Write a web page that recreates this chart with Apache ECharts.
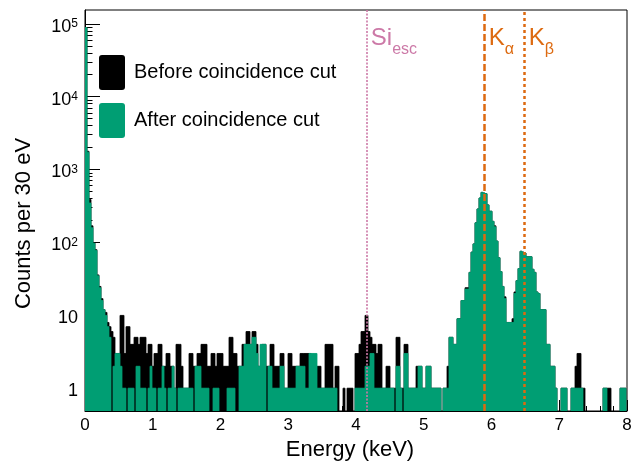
<!DOCTYPE html>
<html>
<head>
<meta charset="utf-8">
<script src="https://cdn.jsdelivr.net/npm/echarts@6/dist/echarts.min.js"></script>
<style>
  html, body { margin: 0; padding: 0; background: #fff; }
  #chart { width: 642px; height: 466px; }
</style>
</head>
<body>
<div id="chart"></div>
<script>
// bin width 30 eV, bins start at 0 keV
var binWidth = 0.03;

// counts per bin before the coincidence cut
var beforeCut = [
  90000, 1800, 390, 170, 100, 80, 36, 25, 17, 12, 11, 8, 7, 6, 5, 3, 3,
  10, 10, 3, 7, 7, 4, 4, 5, 5, 4, 5, 5, 5, 3, 4, 4, 2,
  3, 3, 4, 4, 2, 2, 3, 3, 2, 2, 1, 4, 4, 2, 1, 1, 1,
  3, 3, 2, 2, 3, 3, 4, 4, 4, 2, 2, 3, 3, 2, 3, 3,
  3, 2, 2, 2, 5, 5, 3, 3, 2, 2, 4, 4, 6, 6, 4, 6, 6,
  4, 2, 2, 4, 4, 2, 2, 4, 4, 2, 2, 2, 3, 3, 1,
  1, 3, 3, 2, 2, 2, 2, 3, 3, 3, 3, 3, 2, 2, 2, 2, 2,
  1, 1, 4, 4, 4, 4, 1, 2, 2, 0, 0, 1, 0, 1, 1, 1, 0,
  3, 3, 4, 6, 6, 10, 6, 5, 4, 4, 3, 4, 4, 1, 1,
  2, 2, 1, 1, 1, 5, 5, 1, 1, 4, 4, 1, 1, 1, 1, 2, 2,
  2, 1, 1, 2, 2, 1, 1, 1, 1, 1, 0, 1, 1, 2,
  5, 5, 4, 4, 9, 9, 16, 16, 24, 24, 39, 74, 96, 187, 290, 410, 490, 480, 470, 330, 270, 196, 170, 105, 62, 40, 25, 18,
  8, 8, 8, 9, 21, 30, 44, 76, 74, 72, 64, 64, 64, 43, 39, 21, 20, 12, 12, 12, 4, 4, 2, 2, 1, 0,
  0, 1, 1, 1, 0, 0, 1, 1, 2, 3, 3, 1, 1, 0, 0, 0, 0,
  0, 0, 0, 0, 0, 1, 1, 1, 1, 0, 0, 0, 0, 1, 1, 1, 0
];

// counts per bin after the coincidence cut
var afterCut = [
  90000, 1750, 350, 160, 98, 78, 35, 24, 16, 12, 10, 7, 5, 0, 2, 3, 3,
  2, 1, 1, 0, 1, 1, 1, 0, 2, 2, 1, 1, 1, 0, 1, 2, 1,
  1, 0, 1, 1, 2, 1, 0, 1, 1, 2, 1, 0, 1, 1, 1, 1, 1,
  1, 1, 0, 2, 2, 2, 1, 1, 1, 1, 0, 0, 1, 1, 1, 0,
  0, 0, 0, 1, 1, 1, 1, 0, 0, 2, 2, 4, 4, 4, 4, 5, 5,
  3, 2, 4, 4, 4, 0, 2, 2, 1, 1, 1, 1, 2, 2, 1,
  1, 1, 1, 1, 1, 2, 2, 2, 2, 1, 1, 3, 3, 3, 3, 1, 1,
  1, 1, 1, 1, 1, 1, 1, 1, 0, 0, 0, 0, 0, 0, 0, 0, 0,
  1, 1, 1, 1, 1, 2, 2, 3, 3, 1, 1, 1, 1, 1, 1,
  1, 1, 1, 1, 0, 2, 2, 1, 0, 3, 3, 1, 1, 1, 1, 1, 2,
  2, 1, 1, 2, 2, 1, 1, 1, 1, 1, 0, 1, 1, 1,
  5, 5, 4, 4, 9, 9, 16, 16, 23, 23, 39, 74, 96, 187, 290, 410, 490, 480, 470, 330, 270, 196, 165, 105, 62, 40, 25, 17,
  8, 8, 8, 8, 20, 30, 44, 76, 74, 72, 64, 64, 64, 43, 39, 21, 20, 12, 12, 12, 4, 4, 2, 2, 1, 0,
  0, 1, 1, 1, 0, 0, 1, 1, 1, 1, 1, 1, 0, 0, 0, 0, 0,
  0, 0, 0, 0, 0, 1, 1, 0, 0, 0, 0, 0, 0, 1, 1, 1, 0
];

// line energies (keV)
var siEsc = 4.16;
var kAlpha = 5.9;
var kBeta = 6.49;

// axis ticks
var xTicks = [0, 1, 2, 3, 4, 5, 6, 7, 8];
var yMajor = [1, 10, 100, 1000, 10000, 100000];
var yMinor = [0.5, 0.6, 0.7, 0.8, 0.9];
yMajor.slice(0, 5).forEach(function (d) {
  for (var m = 2; m <= 9; m++) yMinor.push(m * d);
});

var font = 'Liberation Sans, Arial, Helvetica, sans-serif';
var green = '#009e73';
var orange = '#dd6a10';
var pink = '#cc79a7';

function toBins(counts) {
  var out = [];
  counts.forEach(function (c, i) {
    if (c > 0) out.push([i * binWidth, (i + 1) * binWidth, c]);
  });
  return out;
}

// one filled rect per bin, from the count down to the bottom of the frame
function renderBin(params, api) {
  var p0 = api.coord([api.value(0), api.value(2)]);
  var p1 = api.coord([api.value(1), api.value(2)]);
  var cs = params.coordSys;
  var bottom = cs.y + cs.height;
  var top = Math.max(p0[1], cs.y);
  var x0 = Math.round(p0[0]);
  var x1 = Math.round(p1[0]);
  var c = api.visual('color');
  // a thin stroke of the same colour hides seams between neighbouring bins
  return {
    type: 'rect',
    shape: { x: x0, y: top + 0.4, width: x1 - x0, height: bottom - top - 0.4 },
    style: { fill: c, stroke: c, lineWidth: 0.8 }
  };
}

function powLabel(v) {
  var e = Math.round(Math.log10(v));
  if (e <= 1) return '{b|' + Math.round(v) + '}';
  return '{b|10}{e|' + e + '}';
}

var chart = echarts.init(document.getElementById('chart'));

var option = {
  animation: false,
  grid: { left: 85, right: 15, top: 10, bottom: 53, show: true, borderColor: '#000', borderWidth: 1 },
  legend: {
    orient: 'vertical', left: 99, top: 55, padding: 0,
    itemWidth: 26, itemHeight: 35, itemGap: 13,
    icon: 'path://M3,0H23Q26,0,26,3V32Q26,35,23,35H3Q0,35,0,32V3Q0,0,3,0Z',
    textStyle: { fontSize: 20, color: '#000', fontFamily: font, padding: [0, 0, 0, 4] },
    data: ['Before coincidence cut', 'After coincidence cut']
  },
  xAxis: {
    type: 'value', min: 0, max: 8, interval: 1,
    name: 'Energy (keV)', nameLocation: 'middle', nameGap: 28,
    nameTextStyle: { fontSize: 22, color: '#000', fontFamily: font, padding: [0, 12, 0, 0] },
    axisLine: { lineStyle: { color: '#000', width: 1 } },
    axisTick: { inside: true, length: 11, lineStyle: { color: '#000' } },
    minorTick: { show: true, splitNumber: 5, length: 5, lineStyle: { color: '#000' } },
    axisLabel: { fontSize: 17, color: '#000', fontFamily: font, margin: 6,
      customValues: xTicks },
    splitLine: { show: false }
  },
  yAxis: [{
    type: 'log', logBase: 10, min: 0.48, max: 155000,
    name: 'Counts per 30 eV', nameLocation: 'middle', nameGap: 50, nameRotate: 90,
    nameTextStyle: { fontSize: 22, color: '#000', fontFamily: font, padding: [0, 26, 0, 0] },
    axisLine: { show: true, lineStyle: { color: '#000', width: 1 } },
    axisTick: { inside: true, length: 15, customValues: yMajor, lineStyle: { color: '#000' } },
    axisLabel: {
      customValues: yMajor, formatter: powLabel, margin: 7, padding: [6, 0, 0, 0],
      rich: {
        b: { fontSize: 18, color: '#000', fontFamily: font, verticalAlign: 'bottom', lineHeight: 18 },
        e: { fontSize: 12, color: '#000', fontFamily: font, verticalAlign: 'top', lineHeight: 12, padding: [0, 0, 8, 0] }
      }
    },
    splitLine: { show: false }
  }, {
    type: 'log', logBase: 10, min: 0.48, max: 155000, position: 'left', offset: 0,
    axisLine: { show: false },
    axisTick: { inside: true, length: 7.5, customValues: yMinor, lineStyle: { color: '#000' } },
    axisLabel: { show: false },
    splitLine: { show: false }
  }],
  series: [{
    name: 'Before coincidence cut',
    type: 'custom',
    renderItem: renderBin,
    itemStyle: { color: '#000' },
    encode: { x: [0, 1], y: 2 },
    clip: true,
    data: toBins(beforeCut)
  }, {
    name: 'After coincidence cut',
    type: 'custom',
    renderItem: renderBin,
    itemStyle: { color: green },
    encode: { x: [0, 1], y: 2 },
    clip: true,
    data: toBins(afterCut),
    markLine: {
      silent: true, symbol: 'none', animation: false,
      label: { show: false },
      data: [
        { xAxis: siEsc, lineStyle: { color: pink, width: 1.6, type: [2, 1.5] } },
        { xAxis: kAlpha, lineStyle: { color: orange, width: 2.5, type: [7, 3] } },
        { xAxis: kBeta, lineStyle: { color: orange, width: 2.5, type: [3, 3] } }
      ]
    }
  }]
};

chart.setOption(option);

// line annotations, placed from the x axis
function xpx(e) { return chart.convertToPixel({ xAxisIndex: 0 }, e); }
function lineLabel(x, base, sub, color) {
  return {
    type: 'text', x: xpx(x) + 4, y: 26, z: 100,
    style: {
      text: '{a|' + base + '}{s|' + sub + '}',
      rich: {
        a: { fontSize: 24, fill: color, color: color, fontFamily: font, verticalAlign: 'top', lineHeight: 26 },
        s: { fontSize: 16, fill: color, color: color, fontFamily: font, verticalAlign: 'top', lineHeight: 16, padding: [16, 0, 0, 0] }
      }
    }
  };
}
chart.setOption({
  graphic: [
    lineLabel(siEsc, 'Si', 'esc', pink),
    lineLabel(kAlpha, 'K', 'α', orange),
    lineLabel(kBeta, 'K', 'β', orange)
  ]
});
</script>
</body>
</html>
